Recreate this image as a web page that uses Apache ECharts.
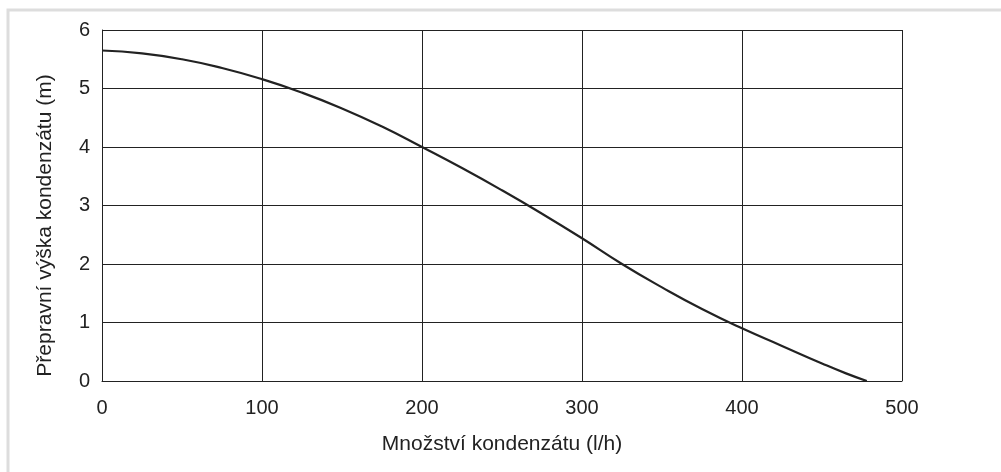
<!DOCTYPE html>
<html>
<head>
<meta charset="utf-8">
<script src="https://cdn.jsdelivr.net/npm/echarts@6/dist/echarts.min.js"></script>
<style>
html,body{margin:0;padding:0;background:#fff;}
#chart{width:1001px;height:472px;}
</style>
</head>
<body>
<div id="chart"></div>
<script>
var flowValues = [0, 25, 50, 75, 100, 125, 150, 175, 200, 225, 250, 275, 300, 325, 350, 375, 400, 425, 450, 465, 478];
var headValues = [5.65, 5.6, 5.5, 5.35, 5.16, 4.93, 4.66, 4.35, 4.0, 3.64, 3.26, 2.86, 2.44, 2.0, 1.6, 1.23, 0.9, 0.6, 0.3, 0.13, 0];
var xAxisTitle = 'Množství kondenzátu (l/h)';
var yAxisTitle = 'Přepravní výška kondenzátu (m)';

var chart = echarts.init(document.getElementById('chart'));
var pts = flowValues.map(function (v, i) { return [v, headValues[i]]; });
var txt = { color: '#222', fontFamily: '"Liberation Sans", Arial, sans-serif', fontSize: 20 };
chart.setOption({
  animation: false,
  graphic: [{
    type: 'rect',
    shape: { x: 8, y: 10, width: 1010, height: 480 },
    style: { fill: 'none', stroke: '#dddddd', lineWidth: 3 },
    silent: true
  }],
  grid: { left: 102, top: 30, width: 800, height: 351, containLabel: false },
  xAxis: {
    type: 'value', min: 0, max: 500, interval: 100,
    name: xAxisTitle, nameLocation: 'middle', nameGap: 53,
    nameTextStyle: Object.assign({}, txt, { fontSize: 21 }),
    axisLine: { show: true, lineStyle: { color: '#222', width: 1 } },
    axisTick: { show: false },
    axisLabel: Object.assign({ margin: 17 }, txt),
    splitLine: { show: true, lineStyle: { color: '#222', width: 1 } }
  },
  yAxis: {
    type: 'value', min: 0, max: 6, interval: 1,
    name: yAxisTitle, nameLocation: 'middle', nameGap: 46,
    nameTextStyle: Object.assign({}, txt, { fontSize: 21, padding: [0, 40, 0, 0] }),
    axisLine: { show: true, lineStyle: { color: '#222', width: 1 } },
    axisTick: { show: false },
    axisLabel: Object.assign({ margin: 12 }, txt),
    splitLine: { show: true, lineStyle: { color: '#222', width: 1 } }
  },
  series: [{
    type: 'line', data: pts, smooth: true, showSymbol: false,
    lineStyle: { color: '#222', width: 2.2 }
  }]
});
</script>
</body>
</html>
